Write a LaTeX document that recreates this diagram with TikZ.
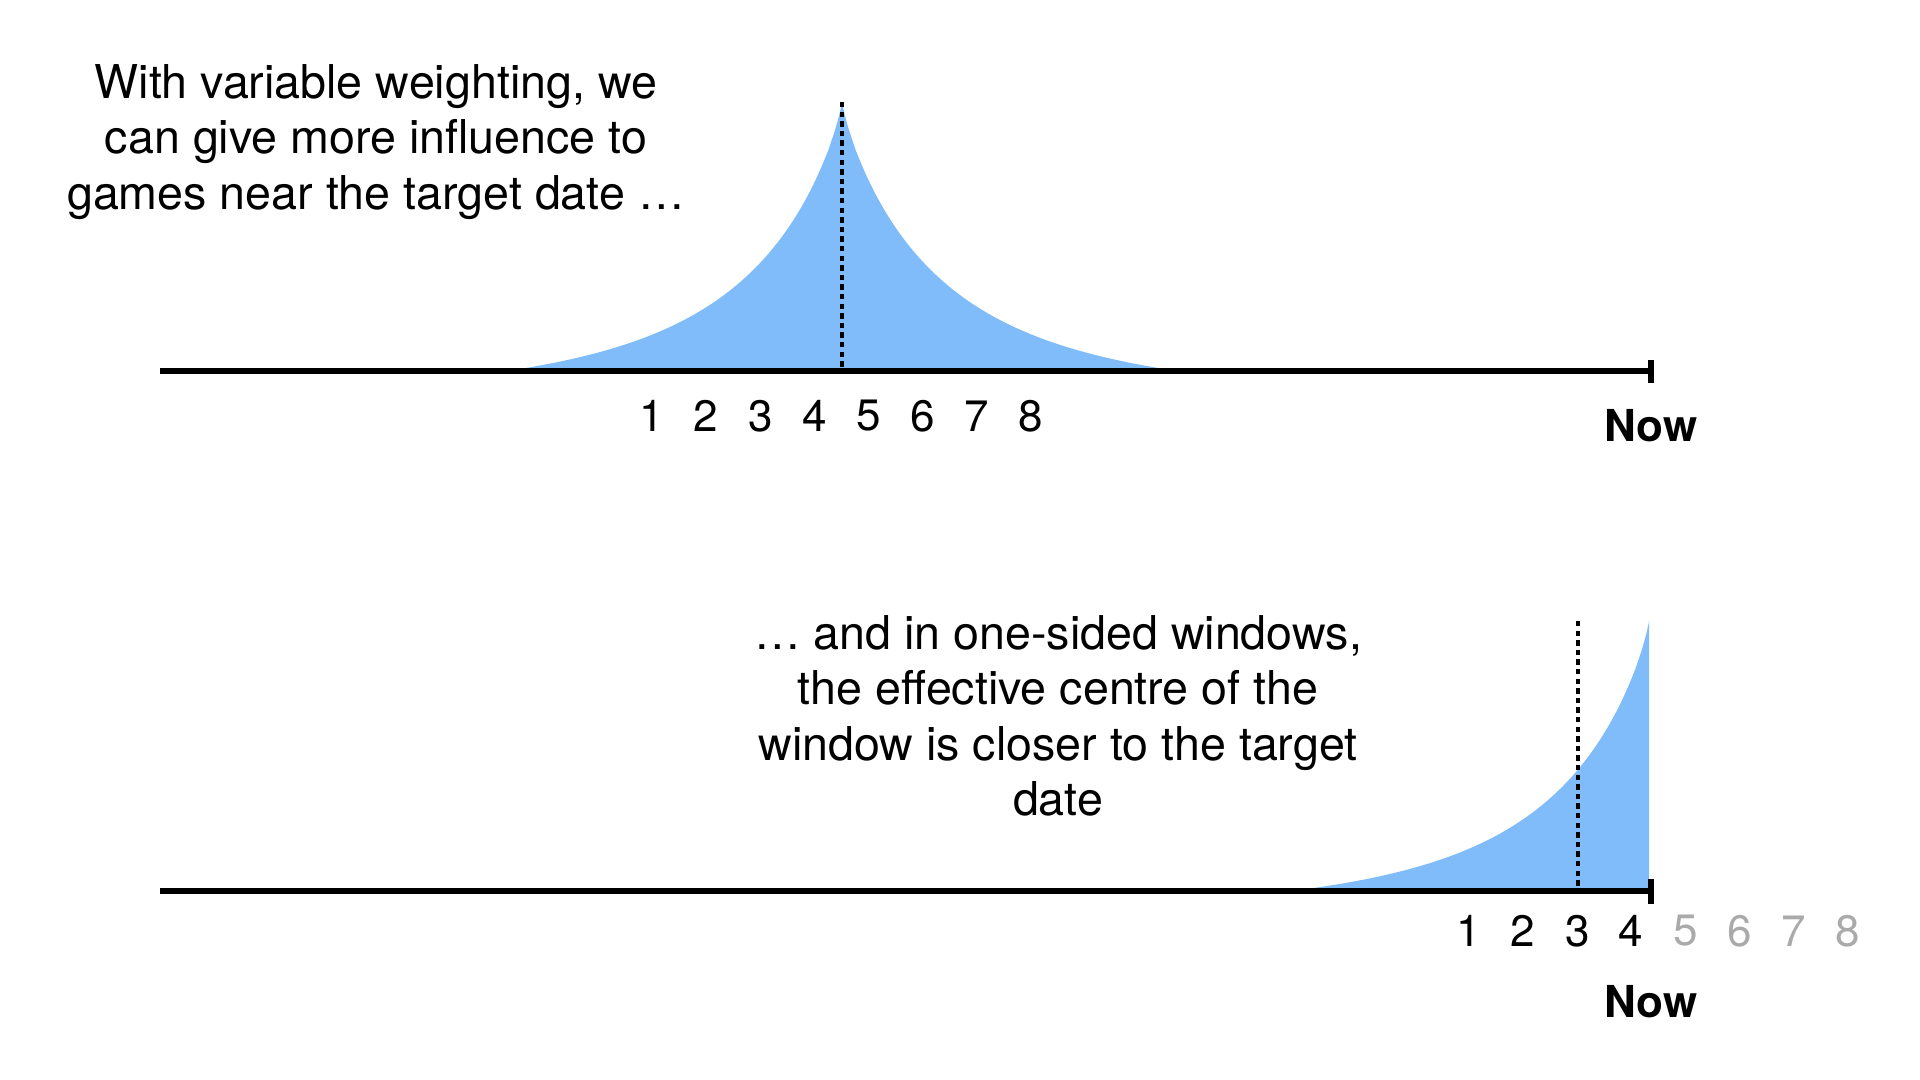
\documentclass[tikz,border=0pt]{standalone}
\usepackage{fontspec}
\setmainfont{TeX Gyre Heros}
\definecolor{wblue}{RGB}{128,188,250}
\definecolor{greynum}{RGB}{170,170,170}
\begin{document}
\begin{tikzpicture}[x=0.5pt,y=-0.5pt,
 axisline/.style={line width=3pt},
 tickline/.style={line width=2.8pt},
 centreline/.style={line width=2.2pt, dash pattern=on 2.7pt off 2.1pt},
 weightfill/.style={fill=wblue, draw=none},
 caption/.style={align=center, font=\fontsize{23.3}{27.7}\selectfont, inner sep=0pt},
 num/.style={font=\fontsize{22}{26}\selectfont, inner sep=0pt},
 greyed/.style={text=greynum},
 nowlabel/.style={font=\bfseries\fontsize{22}{26}\selectfont, inner sep=0pt}]
\useasboundingbox (0,0) rectangle (1920,1080);

% ---------- top panel ----------
\fill[weightfill] (507,371)
  -- plot[domain=507:841.5, samples=160] (\x,{371-269*(exp(-pow((842-\x)/95.3,0.85))-0.0545*(842-\x)/335)})
  -- (842,102)
  -- plot[domain=842.5:1177, samples=160] (\x,{371-269*(exp(-pow((\x-842)/95.3,0.85))-0.0545*(\x-842)/335)})
  -- (1177,371) -- cycle;
\coordinate (topL) at (160,371);
\coordinate (topR) at (1651,371);
\coordinate (topTickA) at (1651,360);
\coordinate (topTickB) at (1651,383);
\coordinate (topPeak) at (842,102);
\coordinate (topPeakBase) at (842,371);
\draw[axisline] (topL) -- (topR);
\draw[tickline] (topTickA) -- (topTickB);
\draw[centreline] (topPeak) -- (topPeakBase);
\foreach \n/\xx in {1/652,2/706,3/761,4/815,5/869,6/923,7/977,8/1031}
  \node[num] (tn\n) at (\xx,416) {\n};
\node[nowlabel] (topNow) at (1651,426) {Now};
\node[caption] (topText) at (376,142) {With variable weighting, we\\can give more influence to\\games near the target date \dots};

% ---------- bottom panel ----------
\fill[weightfill] (1291,891)
  -- plot[domain=1291:1648.5, samples=160] (\x,{891-270*(exp(-pow((1649-\x)/95.3,0.85))-0.046*(1649-\x)/358)})
  -- (1649,621) -- (1649,891) -- cycle;
\coordinate (botL) at (160,891);
\coordinate (botR) at (1651,891);
\coordinate (botTickA) at (1651,879);
\coordinate (botTickB) at (1651,904);
\coordinate (botCentre) at (1578,621);
\coordinate (botCentreBase) at (1578,891);
\draw[axisline] (botL) -- (botR);
\draw[tickline] (botTickA) -- (botTickB);
\draw[centreline] (botCentre) -- (botCentreBase);
\foreach \n/\xx in {1/1469,2/1523,3/1578,4/1631}
  \node[num] (bn\n) at (\xx,931) {\n};
\foreach \n/\xx in {5/1686,6/1740,7/1794,8/1848}
  \node[num,greyed] (bn\n) at (\xx,931) {\n};
\node[nowlabel] (botNow) at (1651,1002) {Now};
\node[caption] (botText) at (1058,716) {\dots{} and in one-sided windows,\\the effective centre of the\\window is closer to the target\\date};
\end{tikzpicture}
\end{document}
